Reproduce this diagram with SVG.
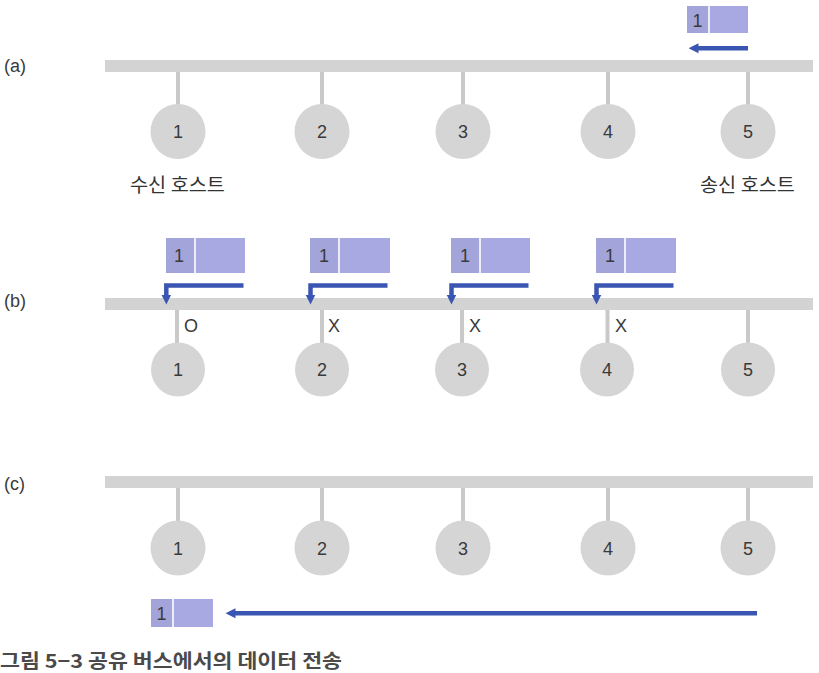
<svg xmlns="http://www.w3.org/2000/svg" width="819" height="673" viewBox="0 0 819 673">
<defs>
<style>
.bus{fill:#d3d3d3}
.stub{stroke:#c9c9c9;stroke-width:4}
.host{fill:#d5d5d6}
.num{font-family:"Liberation Sans",Arial,sans-serif;font-size:18px;fill:#3a3a3a;text-anchor:middle}
.lbl{font-family:"Liberation Sans",Arial,sans-serif;font-size:18px;fill:#3a3a3a}
.kr{font-family:"Noto Sans CJK KR",sans-serif;font-size:19px;fill:#333}
.pk1{fill:#a3a4d9}
.pk2{fill:#a8a9e2}
.pdiv{stroke:#ffffff;stroke-width:1.6}
.arr{fill:none;stroke:#3b56b2;stroke-width:4.5;stroke-linejoin:miter}
.cap{font-family:"Noto Sans CJK KR",sans-serif;font-size:19px;font-weight:bold;fill:#4a4a4a}
</style>
<marker id="ah" viewBox="0 0 10 10" refX="0.5" refY="5" markerWidth="10" markerHeight="11" markerUnits="userSpaceOnUse" orient="auto">
<path d="M0,0 L10,5 L0,10 z" fill="#3b56b2"/>
</marker>
</defs>
<rect width="819" height="673" fill="#ffffff"/>

<!-- panel labels -->
<text class="lbl" x="4" y="72">(a)</text>
<text class="lbl" x="4" y="307">(b)</text>
<text class="lbl" x="4" y="490">(c)</text>

<!-- buses and stubs -->
<g id="bus-a">
<rect class="bus" x="105" y="60" width="708" height="12"/>
<line class="stub" x1="178" y1="72" x2="178" y2="106"/>
<line class="stub" x1="322" y1="72" x2="322" y2="106"/>
<line class="stub" x1="463" y1="72" x2="463" y2="106"/>
<line class="stub" x1="608" y1="72" x2="608" y2="106"/>
<line class="stub" x1="748" y1="72" x2="748" y2="106"/>
</g>
<g id="bus-b">
<rect class="bus" x="105" y="298" width="708" height="12"/>
<line class="stub" x1="177" y1="310" x2="177" y2="344"/>
<line class="stub" x1="322" y1="310" x2="322" y2="344"/>
<line class="stub" x1="462" y1="310" x2="462" y2="344"/>
<line class="stub" x1="607.5" y1="310" x2="607.5" y2="344"/>
<line class="stub" x1="748" y1="310" x2="748" y2="344"/>
</g>
<g id="bus-c">
<rect class="bus" x="105" y="476" width="708" height="12"/>
<line class="stub" x1="178" y1="488" x2="178" y2="523"/>
<line class="stub" x1="322" y1="488" x2="322" y2="523"/>
<line class="stub" x1="463" y1="488" x2="463" y2="523"/>
<line class="stub" x1="608" y1="488" x2="608" y2="523"/>
<line class="stub" x1="748" y1="488" x2="748" y2="523"/>
</g>

<!-- hosts (a) -->
<g id="a-host1"><circle class="host" cx="178" cy="131.5" r="27.5"/><text class="num" x="178" y="138">1</text></g>
<g id="a-host2"><circle class="host" cx="322" cy="131.5" r="27.5"/><text class="num" x="322" y="138">2</text></g>
<g id="a-host3"><circle class="host" cx="463" cy="131.5" r="27.5"/><text class="num" x="463" y="138">3</text></g>
<g id="a-host4"><circle class="host" cx="608" cy="131.5" r="27.5"/><text class="num" x="608" y="138">4</text></g>
<g id="a-host5"><circle class="host" cx="748" cy="131.5" r="27.5"/><text class="num" x="748" y="138">5</text></g>
<text class="kr" x="130" y="192" textLength="95" lengthAdjust="spacingAndGlyphs">수신 호스트</text>
<text class="kr" x="700" y="192" textLength="95" lengthAdjust="spacingAndGlyphs">송신 호스트</text>

<!-- packet (a) -->
<g id="a-packet">
<rect class="pk1" x="687" y="6" width="22" height="27"/>
<rect class="pk2" x="709" y="6" width="39" height="27"/>
<line class="pdiv" x1="709" y1="6" x2="709" y2="33"/>
<text class="num" x="697.5" y="27">1</text>
</g>

<!-- hosts (b) -->
<g id="b-host1"><circle class="host" cx="178" cy="369.5" r="27"/><text class="num" x="178" y="376">1</text></g>
<g id="b-host2"><circle class="host" cx="322" cy="369.5" r="27"/><text class="num" x="322" y="376">2</text></g>
<g id="b-host3"><circle class="host" cx="462" cy="369.5" r="27"/><text class="num" x="462" y="376">3</text></g>
<g id="b-host4"><circle class="host" cx="607" cy="369.5" r="27"/><text class="num" x="607" y="376">4</text></g>
<g id="b-host5"><circle class="host" cx="748" cy="369.5" r="27"/><text class="num" x="748" y="376">5</text></g>
<text class="lbl" x="184" y="332">O</text>
<text class="lbl" x="328" y="332">X</text>
<text class="lbl" x="469" y="332">X</text>
<text class="lbl" x="615" y="332">X</text>

<!-- packets (b) -->
<g id="b-packet1">
<rect class="pk1" x="166" y="238" width="29" height="35"/>
<rect class="pk2" x="195" y="238" width="50" height="35"/>
<line class="pdiv" x1="195" y1="238" x2="195" y2="273"/>
<text class="num" x="179" y="262">1</text>
</g>
<g id="b-packet2">
<rect class="pk1" x="310" y="238" width="29" height="35"/>
<rect class="pk2" x="339" y="238" width="51" height="35"/>
<line class="pdiv" x1="339" y1="238" x2="339" y2="273"/>
<text class="num" x="324" y="262">1</text>
</g>
<g id="b-packet3">
<rect class="pk1" x="451" y="238" width="29" height="35"/>
<rect class="pk2" x="480" y="238" width="50" height="35"/>
<line class="pdiv" x1="480" y1="238" x2="480" y2="273"/>
<text class="num" x="465" y="262">1</text>
</g>
<g id="b-packet4">
<rect class="pk1" x="596" y="238" width="29" height="35"/>
<rect class="pk2" x="625" y="238" width="51" height="35"/>
<line class="pdiv" x1="625" y1="238" x2="625" y2="273"/>
<text class="num" x="610" y="262">1</text>
</g>

<!-- hosts (c) -->
<g id="c-host1"><circle class="host" cx="178" cy="548" r="27.5"/><text class="num" x="178" y="555">1</text></g>
<g id="c-host2"><circle class="host" cx="322" cy="548" r="27.5"/><text class="num" x="322" y="555">2</text></g>
<g id="c-host3"><circle class="host" cx="463" cy="548" r="27.5"/><text class="num" x="463" y="555">3</text></g>
<g id="c-host4"><circle class="host" cx="608" cy="548" r="27.5"/><text class="num" x="608" y="555">4</text></g>
<g id="c-host5"><circle class="host" cx="748" cy="548" r="27.5"/><text class="num" x="748" y="555">5</text></g>

<!-- packet (c) -->
<g id="c-packet">
<rect class="pk1" x="151" y="599" width="22" height="28"/>
<rect class="pk2" x="173" y="599" width="40" height="28"/>
<line class="pdiv" x1="173" y1="599" x2="173" y2="627"/>
<text class="num" x="161.5" y="620">1</text>
</g>

<!-- connectors -->
<g id="connectors">
<path class="arr" d="M748,48.3 H698" marker-end="url(#ah)"/>
<path class="arr" d="M243.5,285.5 H166.3 V295" marker-end="url(#ah)"/>
<path class="arr" d="M387.5,285.5 H310.5 V295" marker-end="url(#ah)"/>
<path class="arr" d="M528.5,285.5 H451.5 V295" marker-end="url(#ah)"/>
<path class="arr" d="M673.5,285.5 H596.5 V295" marker-end="url(#ah)"/>
<path class="arr" d="M757,613.3 H235" marker-end="url(#ah)"/>
</g>

<!-- caption -->
<text class="cap" x="0" y="668" textLength="342" lengthAdjust="spacingAndGlyphs">그림 5−3  공유 버스에서의 데이터 전송</text>
</svg>
